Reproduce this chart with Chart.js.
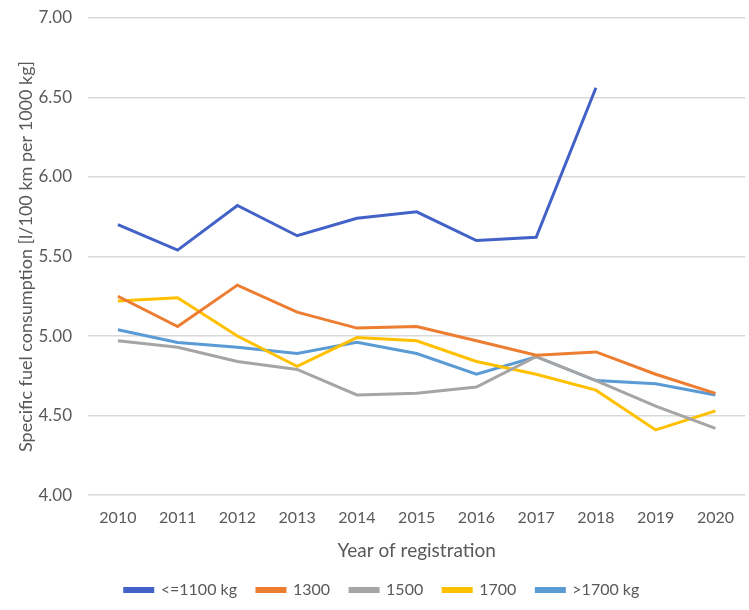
<!DOCTYPE html>
<html>
<head>
<meta charset="utf-8">
<script src="https://cdn.jsdelivr.net/npm/chart.js@4"></script>
<style>
  html, body { margin: 0; padding: 0; background: #fff; }
  #wrap { width: 749px; height: 610px; position: relative; }
</style>
</head>
<body>
<div id="wrap"><canvas id="fuelChart"></canvas></div>
<script>
const years = ['2010', '2011', '2012', '2013', '2014', '2015', '2016', '2017', '2018', '2019', '2020'];

const upTo1100 = [5.70, 5.54, 5.82, 5.63, 5.74, 5.78, 5.60, 5.62, 6.56, null, null];
const cls1300  = [5.25, 5.06, 5.32, 5.15, 5.05, 5.06, 4.97, 4.88, 4.90, 4.76, 4.64];
const cls1500  = [4.97, 4.93, 4.84, 4.79, 4.63, 4.64, 4.68, 4.87, 4.72, 4.56, 4.42];
const cls1700  = [5.22, 5.24, 5.00, 4.81, 4.99, 4.97, 4.84, 4.76, 4.66, 4.41, 4.53];
const over1700 = [5.04, 4.96, 4.93, 4.89, 4.96, 4.89, 4.76, 4.87, 4.72, 4.70, 4.63];

const seriesNames = ['<=1100 kg', '1300', '1500', '1700', '>1700 kg'];
const seriesColors = ['#4262c8', '#ed7d31', '#a5a5a5', '#ffc000', '#5b9bd5'];

const yTicks = [4, 4.5, 5, 5.5, 6, 6.5, 7];

const font = 'Lato, "Open Sans", sans-serif';
const textColor = '#595959';

const ctx = document.getElementById('fuelChart').getContext('2d');

const allData = [upTo1100, cls1300, cls1500, cls1700, over1700];

new Chart(ctx, {
    type: 'line',
    data: {
        labels: years,
        datasets: allData.map((d, i) => ({
            label: seriesNames[i],
            data: d,
            borderColor: seriesColors[i],
            backgroundColor: seriesColors[i],
            borderWidth: 3,
            pointRadius: 0,
            tension: 0,
            fill: false
        }))
    },
    options: {
        responsive: true,
        maintainAspectRatio: false,
        animation: false,
        layout: { padding: { top: 0, right: 0, bottom: 2, left: 15 } },
        scales: {
            x: {
                offset: true,
                grid: { display: false, drawTicks: false },
                border: { display: false },
                ticks: { color: textColor, font: { family: font, size: 16, lineHeight: 1 }, padding: 15, maxRotation: 0 },
                title: {
                    display: true,
                    text: 'Year of registration',
                    color: textColor,
                    font: { family: font, size: 19 },
                    padding: { top: -2, bottom: 0 }
                }
            },
            y: {
                min: 4,
                max: 7,
                afterBuildTicks: axis => { axis.ticks = yTicks.map(v => ({ value: v })); },
                afterFit: axis => { axis.width = 73; },
                grid: { color: '#d9d9d9', lineWidth: 1.5, drawTicks: false },
                border: { display: false },
                ticks: {
                    color: textColor,
                    font: { family: font, size: 17, lineHeight: 0.2 },
                    padding: 16,
                    callback: v => v.toFixed(2)
                },
                title: {
                    display: true,
                    text: 'Specific fuel consumption [l/100 km per 1000 kg]',
                    color: textColor,
                    font: { family: font, size: 18 },
                    padding: { top: 0, bottom: 2 }
                }
            }
        },
        plugins: {
            legend: {
                position: 'bottom',
                labels: {
                    color: textColor,
                    font: { family: font, size: 16 },
                    boxWidth: 28,
                    boxHeight: 3,
                    padding: 20
                }
            },
            tooltip: { enabled: false }
        }
    }
});
</script>
</body>
</html>
